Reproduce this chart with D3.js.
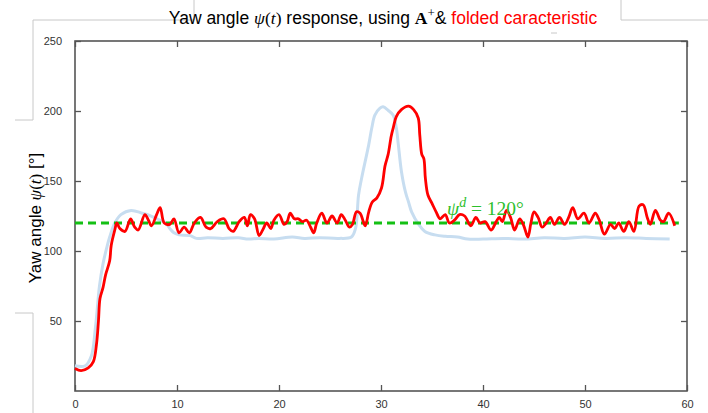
<!doctype html>
<meta charset="utf-8">
<title>Yaw angle response</title>
<script src="https://cdn.jsdelivr.net/npm/d3@7/dist/d3.min.js"></script>
<style>
  body { margin: 0; background: #fff; }
  text { font-family: "Liberation Sans", Arial, sans-serif; }
</style>
<body>
<script>
// values
var xTicks = [0, 10, 20, 30, 40, 50, 60];
var yTicks = [50, 100, 150, 200, 250];
var refValue = 120;
var refT = [0, 59.2];

// red: folded caracteristic
var redT = [0, 0.6, 1.3, 1.8, 2.1, 2.3, 2.45, 2.75, 3.0, 3.4, 3.55, 3.9, 4.1, 4.4, 4.9, 5.45, 5.85, 6.2, 6.85, 7.2, 7.5, 8.0, 8.35, 8.75, 9.3, 9.7,
  10.2, 10.7, 11.2, 11.7, 12.3, 12.85, 13.3, 13.95, 14.6, 15.1, 15.5, 16.1, 16.6, 16.9, 17.2, 17.6, 18.05, 18.4, 18.8, 19.2, 19.5,
  20.0, 20.5, 20.8, 21.1, 21.5, 21.9, 22.3, 22.7, 23.1, 23.4, 23.7, 24.2, 24.7, 25.2, 25.7, 26.1, 26.5, 26.9, 27.2, 27.6, 27.95, 28.45, 28.8, 29.15, 29.6,
  30.05, 30.4, 30.7, 31.0, 31.2, 31.5, 32.0, 32.7, 33.2, 33.65, 33.8, 34.0, 34.2, 34.35, 34.6, 35.0, 35.4, 35.8, 36.3, 36.7, 37.2, 37.7, 38.2, 38.8, 39.3, 39.7,
  40.2, 40.8, 41.3, 41.6, 41.9, 42.3, 42.7, 43.1, 43.6, 44.0, 44.4, 44.7, 45.0, 45.4, 45.8, 46.2, 46.6, 47.0, 47.5, 48.0, 48.4, 48.8, 49.3, 49.9,
  50.4, 51.0, 51.4, 51.9, 52.5, 52.9, 53.3, 53.8, 54.3, 54.8, 55.3, 55.7, 56.1, 56.4, 56.9, 57.4, 57.7, 58.2, 58.8];
var redV = [16, 14.5, 16.5, 21, 33, 50, 66, 74, 83, 93, 104, 115, 120, 116, 114, 123, 117, 115, 126, 122, 118, 126, 131, 120, 119, 123,
  113, 117, 113, 120, 124, 117, 116, 121, 123, 116, 114, 121, 124, 118, 126, 123, 111, 115, 120, 116, 122,
  126, 119, 121, 127, 123, 123, 121, 122, 117, 113, 120, 127, 120, 125, 120, 126, 122, 117, 119, 128, 127, 118, 128, 135, 138,
  145, 161, 169, 182, 188, 196, 201, 203.5, 201, 195, 183, 169, 166, 152, 140, 134, 128, 123, 126, 120, 122, 126, 125, 118, 124, 120,
  121, 115, 121, 124, 121, 129, 124, 115, 123, 118, 110, 120, 128, 124, 117, 120, 124, 119, 124, 119, 124, 131, 123, 127,
  120, 127, 122, 112, 119, 116, 120, 114, 121, 114, 132, 133, 124, 119, 129, 122, 121, 127, 118];

// light blue: reference response
var blueT = [0, 1.0, 1.6, 2.0, 2.4, 2.75, 3.1, 3.4, 3.9, 4.5, 5.5, 6.6, 7.3, 8.3, 8.9, 9.3, 9.7, 10.2, 11.3, 11.9, 13, 14.5, 16, 17, 18, 19.5,
  21.3, 22.5, 24, 25.9, 27.1, 27.5, 27.8, 28.1, 28.8, 29.1, 29.4, 29.9, 30.2, 30.7, 31.2, 31.5, 31.7, 32.0, 32.4, 32.7, 33.0, 33.7, 34.3,
  35.3, 36.3, 37.5, 38.5, 40, 42, 44, 46, 48, 50, 52, 54, 56, 58.3];
var blueV = [18, 18, 25, 45, 75, 91, 102, 110, 120, 126, 129, 127, 125.5, 122, 120, 116, 113, 111.5, 111, 109, 109.5, 109, 109.5, 108.5, 109, 108.5,
  110, 109, 109.5, 109, 110, 116, 140, 152, 176, 188, 197, 202, 203, 200.5, 197, 188, 176, 157, 142, 135, 128, 119, 114,
  111.5, 110.5, 110, 108.5, 108.5, 109, 108.5, 109.5, 109, 110, 109, 109.5, 109, 108.5];

var width = 708, height = 413;
var plotL = 75, plotR = 687, plotT = 41, plotB = 391;

var svg = d3.select('body').append('svg')
  .attr('width', width)
  .attr('height', height);

// stray slide frame lines from the original screenshot
var frame = [
  [[33, 20], [194, 20]], [[194, 0], [194, 20]],
  [[33, 20], [33, 120]], [[15, 120], [33, 120]],
  [[15, 313], [33, 313]], [[33, 313], [33, 413]],
  [[621, 0], [621, 20]], [[621, 20], [708, 20]],
  [[551, 33], [557, 33]]
];
svg.selectAll('line.frame').data(frame).enter().append('line')
  .attr('class', 'frame')
  .attr('x1', function(d) { return d[0][0]; }).attr('y1', function(d) { return d[0][1]; })
  .attr('x2', function(d) { return d[1][0]; }).attr('y2', function(d) { return d[1][1]; })
  .attr('stroke', '#c8c8c8').attr('stroke-width', 1);

var x = d3.scaleLinear().domain([0, 60]).range([plotL, plotR]);
var y = d3.scaleLinear().domain([0, 250]).range([plotB, plotT]);

// box axes, ticks pointing in
function styleAxis(g) {
  g.select('.domain').remove();
  g.selectAll('.tick line').attr('stroke', '#555').attr('stroke-width', 1.3);
  g.selectAll('.tick text').attr('fill', '#333').style('font-size', '11px')
    .style('font-family', '"Liberation Sans", Arial, sans-serif');
}
svg.append('g').attr('transform', 'translate(0,' + plotB + ')')
  .call(d3.axisBottom(x).tickValues(xTicks).tickSize(-6).tickPadding(9))
  .call(styleAxis);
svg.append('g').attr('transform', 'translate(0,' + plotT + ')')
  .call(d3.axisTop(x).tickValues(xTicks).tickSize(-6).tickFormat(''))
  .call(styleAxis);
svg.append('g').attr('transform', 'translate(' + plotL + ',0)')
  .call(d3.axisLeft(y).tickValues(yTicks).tickSize(-6).tickPadding(13))
  .call(styleAxis);
svg.append('g').attr('transform', 'translate(' + plotR + ',0)')
  .call(d3.axisRight(y).tickValues(yTicks).tickSize(-6).tickFormat(''))
  .call(styleAxis);
svg.append('rect')
  .attr('x', plotL).attr('y', plotT)
  .attr('width', plotR - plotL).attr('height', plotB - plotT)
  .attr('fill', 'none').attr('stroke', '#555').attr('stroke-width', 1.6);

var line = d3.line()
  .x(function(d) { return x(d[0]); })
  .y(function(d) { return y(d[1]); })
  .curve(d3.curveCatmullRom.alpha(0.5));

svg.append('path')
  .datum(d3.zip(blueT, blueV))
  .attr('d', line)
  .attr('fill', 'none')
  .attr('stroke', '#c7ddf0')
  .attr('stroke-width', 3);

svg.append('path')
  .datum(refT.map(function(t) { return [t, refValue]; }))
  .attr('d', d3.line().x(function(d) { return x(d[0]); }).y(function(d) { return y(d[1]); }))
  .attr('stroke', '#14c014')
  .attr('stroke-width', 3)
  .attr('stroke-dasharray', '8,5');

svg.append('path')
  .datum(d3.zip(redT, redV))
  .attr('d', line)
  .attr('fill', 'none')
  .attr('stroke', '#ff0000')
  .attr('stroke-width', 2.8)
  .attr('stroke-linejoin', 'round');

// annotation
var ann = svg.append('text')
  .attr('x', 447).attr('y', 215)
  .attr('fill', '#2cc02c')
  .style('font-family', '"Liberation Serif", "DejaVu Serif", serif')
  .style('font-size', '19.5px');
ann.append('tspan').style('font-style', 'italic').text('ψ');
ann.append('tspan').attr('dy', -8).style('font-style', 'italic').style('font-size', '14px').text('d');
ann.append('tspan').attr('dy', 8).text(' = 120°');

// title
var title = svg.append('text')
  .attr('x', 383).attr('y', 24)
  .attr('text-anchor', 'middle')
  .style('font-size', '17.5px')
  .attr('fill', '#000');
title.append('tspan').text('Yaw angle ');
title.append('tspan').style('font-family', '"Liberation Serif", serif').style('font-style', 'italic').text('ψ');
title.append('tspan').style('font-family', '"Liberation Serif", serif').text('(');
title.append('tspan').style('font-family', '"Liberation Serif", serif').style('font-style', 'italic').text('t');
title.append('tspan').style('font-family', '"Liberation Serif", serif').text(')');
title.append('tspan').text(' response, using ');
title.append('tspan').style('font-family', '"Liberation Serif", serif').style('font-weight', 'bold').text('A');
title.append('tspan').attr('dy', -7).style('font-size', '13px').style('font-family', '"Liberation Serif", serif').text('+');
title.append('tspan').attr('dy', 7).text('& ');
title.append('tspan').attr('fill', '#ff0000').text('folded caracteristic');

// y label
var ylab = svg.append('text')
  .attr('transform', 'translate(41,218) rotate(-90)')
  .attr('text-anchor', 'middle')
  .style('font-size', '17px')
  .attr('fill', '#000');
ylab.append('tspan').text('Yaw angle ');
ylab.append('tspan').style('font-family', '"Liberation Serif", serif').style('font-style', 'italic').text('ψ');
ylab.append('tspan').style('font-family', '"Liberation Serif", serif').text('(');
ylab.append('tspan').style('font-family', '"Liberation Serif", serif').style('font-style', 'italic').text('t');
ylab.append('tspan').style('font-family', '"Liberation Serif", serif').text(')');
ylab.append('tspan').text(' [°]');
</script>
</body>
